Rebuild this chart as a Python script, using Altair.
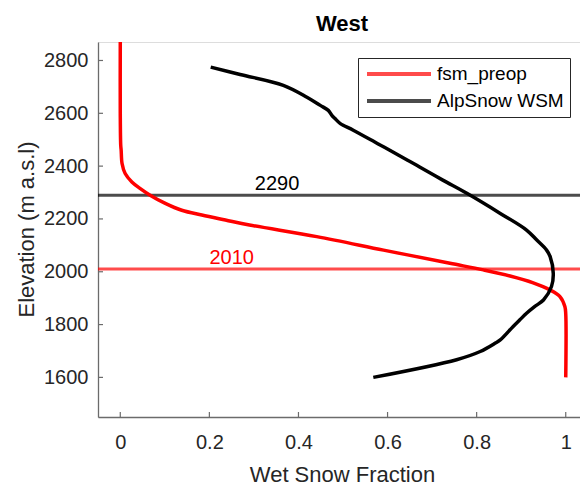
import altair as alt
import pandas as pd

FONT = "Liberation Sans"

# fsm_preop profile: elevation (m a.s.l.) and wet snow fraction
fsm_elev = [2870, 2600, 2480, 2460, 2410, 2372, 2340, 2315, 2290, 2259, 2233,
            2215, 2196, 2177, 2133, 2082, 2032, 2007, 1984, 1958, 1931, 1906,
            1868, 1840, 1600]
fsm_frac = [0.0, 0.0, 0.001, 0.002, 0.004, 0.011, 0.026, 0.045, 0.067, 0.101, 0.138,
            0.183, 0.236, 0.29, 0.441, 0.591, 0.740, 0.815, 0.875, 0.927, 0.965, 0.987,
            0.998, 1.0, 1.0]

# AlpSnow WSM profile
wsm_elev = [2775, 2747, 2706, 2661, 2630, 2611, 2592, 2580, 2561, 2536, 2485,
            2460, 2422, 2397, 2347, 2297, 2221, 2158, 2120, 2082, 2057, 1994,
            1944, 1893, 1868, 1843, 1818, 1793, 1742, 1730, 1698, 1667, 1600]
wsm_frac = [0.203, 0.269, 0.366, 0.419, 0.449, 0.467, 0.475, 0.482, 0.494, 0.523, 0.578,
            0.605, 0.645, 0.672, 0.724, 0.778, 0.853, 0.912, 0.935, 0.957, 0.965, 0.972,
            0.968, 0.950, 0.930, 0.912, 0.897, 0.882, 0.853, 0.842, 0.808, 0.755, 0.568]

series_names = ["fsm_preop", "AlpSnow WSM"]
series_colors = ["#ff0000", "#000000"]

# Snow line elevations and where their labels sit along the x axis
line_elev = [2290, 2010]
line_colors = ["#000000", "#ff0000"]
line_label_x = [0.352, 0.25]

x_ticks = [0, 0.2, 0.4, 0.6, 0.8, 1.0]
y_ticks = [1600, 1800, 2000, 2200, 2400, 2600, 2800]

W, H = 482, 375

profiles = pd.concat([
    pd.DataFrame({"elev": fsm_elev, "frac": fsm_frac, "series": series_names[0]}),
    pd.DataFrame({"elev": wsm_elev, "frac": wsm_frac, "series": series_names[1]}),
])
lines_df = pd.DataFrame({"elev": line_elev, "color": line_colors,
                         "lx": line_label_x, "label": [str(v) for v in line_elev]})

x_scale = alt.Scale(domain=[-0.05, 1.032], nice=False, zero=False)
y_scale = alt.Scale(domain=[1450, 2870], nice=False, zero=False)

x_axis = alt.Axis(values=x_ticks, format="~g", title="Wet Snow Fraction",
                  grid=False, ticks=False, tickSize=0, labelPadding=15,
                  labelFontSize=20, labelColor="#262626", labelFont=FONT,
                  titleFontSize=22, titleFont=FONT, titleFontWeight="normal",
                  titleColor="#262626", titleBaseline="alphabetic",
                  titleX=244, titleY=64, titleAlign="center",
                  domainColor="#6b6b6b", domainWidth=1.3)
y_axis = alt.Axis(values=y_ticks, format="d", title="Elevation (m a.s.l)",
                  grid=False, ticks=False, tickSize=0, labelPadding=10,
                  labelFontSize=20, labelColor="#262626", labelFont=FONT,
                  titleFontSize=22, titleFont=FONT, titleFontWeight="normal",
                  titleColor="#262626", titleBaseline="alphabetic",
                  titleX=-65, titleY=187, titleAlign="center", titleAngle=-90,
                  domainColor="#6b6b6b", domainWidth=1.3)

# Horizontal snow-line rules
rules = alt.Chart(lines_df).mark_rule(strokeWidth=3, opacity=0.7).encode(
    y=alt.Y("elev:Q", scale=y_scale, axis=y_axis),
    color=alt.Color("color:N", scale=None),
)

rule_labels = alt.Chart(lines_df).mark_text(
    font=FONT, fontSize=20, baseline="alphabetic", align="center", dy=-5
).encode(
    x=alt.X("lx:Q", scale=x_scale),
    y=alt.Y("elev:Q", scale=y_scale),
    text="label:N",
    color=alt.Color("color:N", scale=None),
)

# Long, flat line swatch for the legend (unit path scaled by sqrt(size)/2)
swatch = "M-0.875,0H7.125"

curves = alt.Chart(profiles).mark_line(strokeWidth=3.5, strokeJoin="round",
                                       interpolate="catmull-rom").encode(
    x=alt.X("frac:Q", scale=x_scale, axis=x_axis),
    y=alt.Y("elev:Q", scale=y_scale),
    order=alt.Order("elev:Q"),
    color=alt.Color("series:N",
                    scale=alt.Scale(domain=series_names, range=series_colors),
                    legend=alt.Legend(
                        title=None, orient="none", legendX=260, legendY=16,
                        symbolType=swatch, symbolSize=256,
                        symbolStrokeWidth=4, labelFontSize=19, labelFont=FONT,
                        labelColor="#000000", labelOffset=53, rowPadding=7,
                        padding=6, strokeColor="#262626", fillColor="white",
                        cornerRadius=0)),
)

# Inward-pointing tick marks on both axes
xt = alt.Chart(pd.DataFrame({"t": x_ticks})).mark_rule(
    color="#6b6b6b", strokeWidth=1.2).encode(
    x=alt.X("t:Q", scale=x_scale), y=alt.value(H), y2=alt.value(H - 5))
yt = alt.Chart(pd.DataFrame({"t": y_ticks})).mark_rule(
    color="#6b6b6b", strokeWidth=1.2).encode(
    y=alt.Y("t:Q", scale=y_scale), x=alt.value(0), x2=alt.value(5))

chart = alt.layer(rules, rule_labels, curves, xt, yt).properties(
    width=W, height=H,
    autosize="none",
    padding={"left": 98, "top": 42, "right": 0, "bottom": 69},
    title=alt.TitleParams("West", fontSize=22, fontWeight="bold", font=FONT,
                          color="#000000", offset=10, baseline="alphabetic",
                          anchor="middle", frame="group", dx=3, dy=23),
).configure_view(stroke=None).configure(background="white")

chart.save("out.html", embed_options={"renderer": "svg", "actions": False})
